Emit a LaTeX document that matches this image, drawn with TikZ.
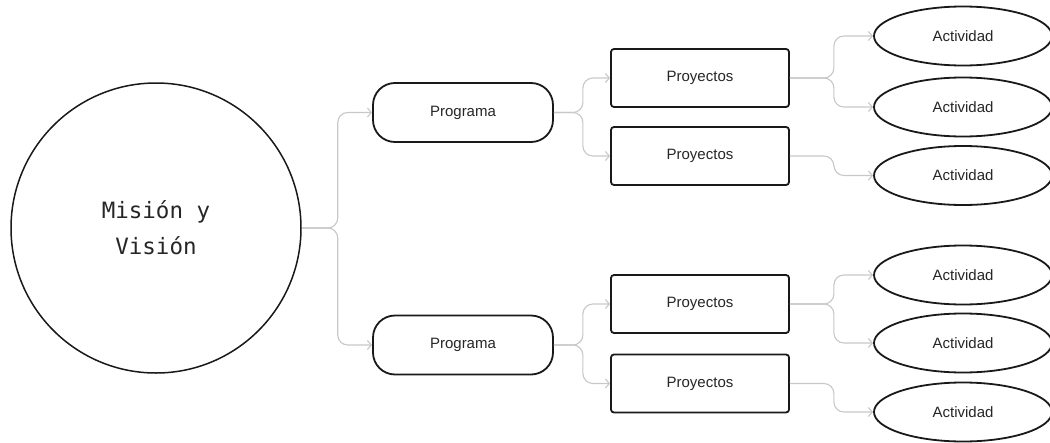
\documentclass[tikz,border=0pt]{standalone}
\usepackage{fontspec}
\setmainfont{Liberation Sans}
\newfontfamily\monofnt{DejaVu Sans Mono}
\usetikzlibrary{arrows.meta,shapes.geometric}
\definecolor{conngray}{HTML}{C8C8C8}
\begin{document}
\begin{tikzpicture}[x=1pt,y=-1pt,
  every node/.style={font=\fontsize{15}{18}\selectfont, text=black!85},
  bigcircle/.style={draw=black!90, line width=1.5pt, circle, minimum size=290pt, inner sep=0pt,
    align=center, font=\monofnt\fontsize{22.5}{36}\selectfont},
  pill/.style={draw=black!90, line width=1.8pt, rounded corners=22pt, minimum width=180pt, minimum height=59pt, inner sep=0pt},
  projbox/.style={draw=black!90, line width=1.8pt, rounded corners=3pt, minimum width=178pt, minimum height=58pt, inner sep=0pt},
  actell/.style={draw=black!90, line width=1.8pt, ellipse, minimum width=178pt, minimum height=59pt, inner sep=0pt},
  conn/.style={draw=conngray, line width=1.1pt, rounded corners=10pt, -{Straight Barb[length=4pt,width=9pt,line width=1.1pt]}}
]
\useasboundingbox (0,0) rectangle (1050,442);
\fill[white] (0,0) rectangle (1050,442);

\node[bigcircle] (mv) at (156,228) {Misión y\\Visión};

\node[pill] (p1) at (463,112.5) {Programa};
\node[pill] (p2) at (463,345) {Programa};

\node[projbox] (y1) at (700,78) {Proyectos};
\node[projbox] (y2) at (700,156) {Proyectos};
\node[projbox] (y3) at (700,304) {Proyectos};
\node[projbox] (y4) at (700,383.5) {Proyectos};

\node[actell] (a1) at (963,36) {Actividad};
\node[actell] (a2) at (963,107) {Actividad};
\node[actell] (a3) at (963,175.5) {Actividad};
\node[actell] (a4) at (963,275) {Actividad};
\node[actell] (a5) at (963,343) {Actividad};
\node[actell] (a6) at (963,412) {Actividad};

\draw[conn] (mv.east) -- ++(36,0) |- (p1.west);
\draw[conn] (mv.east) -- ++(36,0) |- (p2.west);

\draw[conn] (p1.east) -- ++(29,0) |- (y1.west);
\draw[conn] (p1.east) -- ++(29,0) |- (y2.west);
\draw[conn] (p2.east) -- ++(29,0) |- (y3.west);
\draw[conn] (p2.east) -- ++(29,0) |- (y4.west);

\draw[conn] (y1.east) -- ++(44,0) |- (a1.west);
\draw[conn] (y1.east) -- ++(44,0) |- (a2.west);
\draw[conn] (y2.east) -- ++(44,0) |- (a3.west);
\draw[conn] (y3.east) -- ++(44,0) |- (a4.west);
\draw[conn] (y3.east) -- ++(44,0) |- (a5.west);
\draw[conn] (y4.east) -- ++(44,0) |- (a6.west);
\end{tikzpicture}
\end{document}
